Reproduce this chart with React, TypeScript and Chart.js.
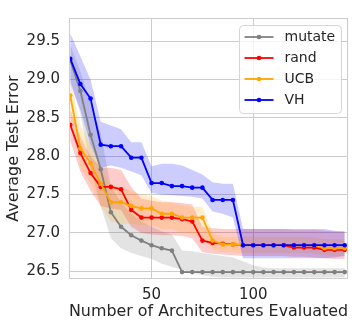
import React, { useEffect, useRef } from "react";
import { Chart, registerables } from "chart.js";

Chart.register(...registerables);

const xValues = [10, 15, 20, 25, 30, 35, 40, 45, 50, 55, 60, 65, 70, 75, 80, 85, 90, 95, 100, 105, 110, 115, 120, 125, 130, 135, 140, 145];

const mutateMean = [29.25, 28.85, 28.28, 27.83, 27.27, 27.08, 26.97, 26.9, 26.84, 26.8, 26.77, 26.49, 26.49, 26.49, 26.49, 26.49, 26.49, 26.49, 26.49, 26.49, 26.49, 26.49, 26.49, 26.49, 26.49, 26.49, 26.49, 26.49];
const mutateUpper = [29.45, 29.1, 28.7, 28.3, 27.6, 27.4, 27.25, 27.15, 27.08, 27.02, 26.98, 26.77, 26.76, 26.74, 26.72, 26.7, 26.68, 26.63, 26.58, 26.55, 26.54, 26.54, 26.54, 26.54, 26.54, 26.54, 26.54, 26.54];
const mutateLower = [29.0, 28.55, 27.85, 27.35, 26.93, 26.8, 26.74, 26.7, 26.66, 26.6, 26.56, 26.52, 26.48, 26.45, 26.43, 26.42, 26.42, 26.42, 26.42, 26.42, 26.42, 26.42, 26.42, 26.42, 26.42, 26.42, 26.42, 26.42];

const randMean = [28.41, 28.04, 27.78, 27.6, 27.6, 27.57, 27.3, 27.2, 27.2, 27.2, 27.2, 27.18, 27.15, 26.9, 26.87, 26.86, 26.85, 26.84, 26.84, 26.84, 26.84, 26.84, 26.81, 26.81, 26.81, 26.78, 26.78, 26.78];
const randUpper = [28.6, 28.25, 28.0, 27.85, 27.85, 27.82, 27.6, 27.45, 27.42, 27.4, 27.4, 27.39, 27.37, 27.08, 27.06, 27.05, 27.05, 27.05, 27.05, 27.05, 27.05, 27.05, 27.04, 27.04, 27.04, 27.03, 27.02, 27.02];
const randLower = [28.2, 27.8, 27.55, 27.35, 27.32, 27.3, 27.08, 27.0, 26.98, 26.97, 26.97, 26.96, 26.93, 26.75, 26.73, 26.72, 26.71, 26.7, 26.7, 26.7, 26.7, 26.7, 26.69, 26.69, 26.68, 26.67, 26.66, 26.66];

const ucbMean = [28.79, 28.1, 27.91, 27.64, 27.4, 27.4, 27.35, 27.32, 27.32, 27.25, 27.25, 27.2, 27.2, 27.2, 26.9, 26.85, 26.85, 26.84, 26.84, 26.84, 26.84, 26.84, 26.84, 26.84, 26.84, 26.8, 26.8, 26.8];
const ucbUpper = [29.0, 28.4, 28.15, 27.85, 27.62, 27.6, 27.55, 27.5, 27.48, 27.42, 27.4, 27.36, 27.34, 27.34, 27.0, 26.95, 26.95, 26.95, 26.95, 26.95, 26.95, 26.95, 26.95, 26.95, 26.94, 26.92, 26.92, 26.92];
const ucbLower = [28.55, 27.85, 27.65, 27.35, 27.15, 27.12, 27.12, 27.1, 27.1, 27.05, 27.05, 27.0, 26.98, 26.95, 26.78, 26.75, 26.75, 26.74, 26.74, 26.74, 26.74, 26.74, 26.74, 26.74, 26.73, 26.71, 26.7, 26.7];

const vhMean = [29.27, 28.94, 28.75, 28.15, 28.13, 28.13, 27.98, 27.98, 27.65, 27.65, 27.61, 27.61, 27.59, 27.59, 27.43, 27.43, 27.43, 26.84, 26.84, 26.84, 26.84, 26.84, 26.84, 26.84, 26.84, 26.84, 26.84, 26.84];
const vhUpper = [29.6, 29.3, 29.0, 28.45, 28.4, 28.35, 28.18, 28.18, 27.87, 27.9, 27.9, 27.88, 27.82, 27.76, 27.66, 27.64, 27.64, 27.05, 27.05, 27.05, 27.05, 27.05, 27.05, 27.05, 27.05, 27.05, 27.03, 27.02];
const vhLower = [28.95, 28.6, 28.15, 27.85, 27.88, 27.85, 27.8, 27.75, 27.52, 27.5, 27.49, 27.48, 27.47, 27.45, 27.28, 27.25, 27.2, 26.67, 26.67, 26.67, 26.67, 26.67, 26.67, 26.67, 26.67, 26.67, 26.68, 26.7];

const seriesLabels = ["mutate", "rand", "UCB", "VH"];
const seriesColors = ["#808080", "#ff0000", "#ffa500", "#0000ff"];
const bandColors = ["rgba(128,128,128,0.22)", "rgba(255,0,0,0.2)", "rgba(255,165,0,0.2)", "rgba(0,0,255,0.2)"];

const xTicks = [50, 100];
const yTicks = [26.5, 27.0, 27.5, 28.0, 28.5, 29.0, 29.5];
const xTitle = "Number of Architectures Evaluated";
const yTitle = "Average Test Error";

const FONT = "'DejaVu Sans', sans-serif";
const TEXT = "#262626";
const GRID = "#cccccc";

export default function App() {
  const ref = useRef<HTMLCanvasElement | null>(null);

  useEffect(() => {
    const canvas = ref.current;
    if (!canvas) return;

    const means = [mutateMean, randMean, ucbMean, vhMean];
    const uppers = [mutateUpper, randUpper, ucbUpper, vhUpper];
    const lowers = [mutateLower, randLower, ucbLower, vhLower];
    const toPts = (ys: number[]) => xValues.map((x, i) => ({ x, y: ys[i] }));

    const datasets: any[] = [];
    seriesLabels.forEach((label, k) => {
      datasets.push({
        label: label + "_upper",
        data: toPts(uppers[k]),
        borderColor: "rgba(0,0,0,0)",
        borderWidth: 1,
        pointRadius: 0,
        fill: false,
        tension: 0,
        clip: 0,
        order: 100 - k * 2,
      });
      datasets.push({
        label: label + "_lower",
        data: toPts(lowers[k]),
        borderColor: "rgba(0,0,0,0)",
        backgroundColor: bandColors[k],
        borderWidth: 1,
        pointRadius: 0,
        fill: "-1",
        tension: 0,
        clip: 0,
        order: 99 - k * 2,
      });
    });
    seriesLabels.forEach((label, k) => {
      datasets.push({
        label,
        data: toPts(means[k]),
        borderColor: seriesColors[k],
        backgroundColor: seriesColors[k],
        pointBackgroundColor: seriesColors[k],
        pointBorderWidth: 0,
        pointRadius: 2.3,
        borderWidth: 1.8,
        fill: false,
        tension: 0,
        clip: 0,
        order: 10 - k,
      });
    });

    const frame = {
      id: "frame",
      afterDatasetsDraw(chart: any) {
        const { ctx, chartArea: a } = chart;
        ctx.save();
        ctx.strokeStyle = GRID;
        ctx.lineWidth = 1;
        ctx.strokeRect(a.left + 0.5, a.top + 0.5, a.right - a.left - 1, a.bottom - a.top - 1);
        ctx.restore();
      },
    };

    const legend = {
      id: "customLegend",
      afterDraw(chart: any) {
        const { ctx, chartArea: a } = chart;
        const boxRight = a.right - 6.5;
        const boxLeft = boxRight - 102;
        const boxTop = a.top + 7.5;
        const boxH = 88;
        ctx.save();
        ctx.beginPath();
        const r = 4;
        ctx.moveTo(boxLeft + r, boxTop);
        ctx.arcTo(boxRight, boxTop, boxRight, boxTop + boxH, r);
        ctx.arcTo(boxRight, boxTop + boxH, boxLeft, boxTop + boxH, r);
        ctx.arcTo(boxLeft, boxTop + boxH, boxLeft, boxTop, r);
        ctx.arcTo(boxLeft, boxTop, boxRight, boxTop, r);
        ctx.closePath();
        ctx.fillStyle = "rgba(255,255,255,0.8)";
        ctx.fill();
        ctx.strokeStyle = "#d5d5d5";
        ctx.lineWidth = 1;
        ctx.stroke();
        ctx.font = "14px " + FONT;
        ctx.textBaseline = "middle";
        ctx.textAlign = "left";
        seriesLabels.forEach((label, k) => {
          const cy = boxTop + 11.5 + k * 21;
          const x0 = boxLeft + 5;
          const x1 = x0 + 29;
          ctx.strokeStyle = seriesColors[k];
          ctx.lineWidth = 1.8;
          ctx.beginPath();
          ctx.moveTo(x0, cy);
          ctx.lineTo(x1, cy);
          ctx.stroke();
          ctx.fillStyle = seriesColors[k];
          ctx.beginPath();
          ctx.arc((x0 + x1) / 2, cy, 2.3, 0, Math.PI * 2);
          ctx.fill();
          ctx.fillStyle = TEXT;
          ctx.fillText(label, x1 + 11, cy);
        });
        ctx.restore();
      },
    };

    const chart = new Chart(canvas, {
      type: "line",
      data: { datasets },
      options: {
        animation: false,
        responsive: false,
        devicePixelRatio: 1,
        layout: { padding: { top: 7, right: 8, left: 0, bottom: 0 } },
        plugins: {
          legend: { display: false },
          tooltip: { enabled: false },
        },
        scales: {
          x: {
            type: "linear",
            min: 9.4,
            max: 146.6,
            afterBuildTicks: (s: any) => {
              s.ticks = xTicks.map((v) => ({ value: v }));
            },
            afterFit: (s: any) => {
              s.height = 48;
            },
            grid: { color: GRID, lineWidth: 1, drawTicks: false },
            border: { display: false },
            ticks: {
              autoSkip: false,
              maxRotation: 0,
              padding: 7,
              color: TEXT,
              font: { family: FONT, size: 15 },
              callback: (v: any) => String(v),
            },
            title: {
              display: true,
              text: xTitle,
              color: TEXT,
              font: { family: FONT, size: 16 },
              padding: { top: 0, bottom: 6 },
            },
          },
          y: {
            type: "linear",
            min: 26.4,
            max: 29.8,
            afterBuildTicks: (s: any) => {
              s.ticks = yTicks.map((v) => ({ value: v }));
            },
            afterFit: (s: any) => {
              s.width = 69;
            },
            grid: { color: GRID, lineWidth: 1, drawTicks: false },
            border: { display: false },
            ticks: {
              autoSkip: false,
              padding: 9,
              color: TEXT,
              font: { family: FONT, size: 15 },
              callback: (v: any) => Number(v).toFixed(1),
            },
            title: {
              display: true,
              text: yTitle,
              color: TEXT,
              font: { family: FONT, size: 16 },
              padding: { top: 4, bottom: 0 },
            },
          },
        },
      },
      plugins: [frame, legend],
    } as any);

    return () => chart.destroy();
  }, []);

  return (
    <div style={{ position: "absolute", left: 0, top: 0, width: 356, height: 327, background: "#fff" }}>
      <canvas ref={ref} width={356} height={327} style={{ width: 356, height: 327, display: "block" }} />
    </div>
  );
}
